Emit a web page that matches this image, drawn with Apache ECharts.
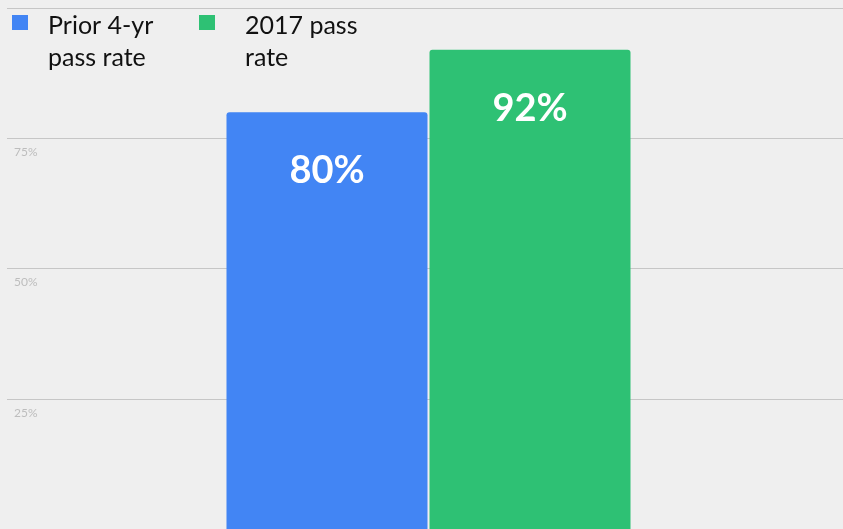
<!DOCTYPE html>
<html>
<head>
<meta charset="utf-8">
<script src="https://cdn.jsdelivr.net/npm/echarts@6/dist/echarts.min.js"></script>
<style>
html,body{margin:0;padding:0;background:#efefef;}
#chart{width:843px;height:529px;}
</style>
</head>
<body>
<div id="chart"></div>
<script>
const seriesNames = ['Prior 4-yr\npass rate', '2017 pass\nrate'];
const seriesValues = [80, 92];
const seriesColors = ['#4285F4', '#2EC174'];
const categories = [''];
const yTicks = [0, 25, 50, 75, 100];

const chart = echarts.init(document.getElementById('chart'), null, {renderer: 'canvas'});

const legendText = {fontFamily: 'Lato', fontSize: 25, color: '#111', lineHeight: 32};
const yMin = yTicks[0], yMax = yTicks[yTicks.length - 1];
const option = {
  backgroundColor: '#efefef',
  animation: false,
  grid: [
    {left: 7, top: 8, right: 0, height: 523, containLabel: false},
    {left: 14, top: 8, right: 0, height: 523, containLabel: false}
  ],
  legend: [
    {
      data: [seriesNames[0]], left: 12, top: 10, padding: 0,
      itemWidth: 31, itemHeight: 64,
      icon: 'path://M0,0L0,0M0,5L16,5L16,20L0,20ZM31,64L31,64',
      textStyle: legendText, selectedMode: false
    },
    {
      data: [seriesNames[1]], left: 199, top: 10, padding: 0,
      itemWidth: 41, itemHeight: 64,
      icon: 'path://M0,0L0,0M0,5L16,5L16,20L0,20ZM41,64L41,64',
      textStyle: legendText, selectedMode: false
    }
  ],
  xAxis: [
    {type: 'category', data: categories, gridIndex: 0, show: false},
    {type: 'category', data: categories, gridIndex: 1,
     axisLine: {show: false}, axisTick: {show: false}, axisLabel: {show: false}}
  ],
  yAxis: [
    {
      type: 'value', gridIndex: 0, min: yMin, max: yMax, interval: 25,
      axisLine: {show: false}, axisTick: {show: false},
      splitLine: {lineStyle: {color: '#c6c6c6', width: 1}},
      axisLabel: {
        inside: true, margin: 7, verticalAlign: 'top', padding: [8, 0, 0, 0],
        color: '#bdbdbd', fontFamily: 'Lato', fontSize: 12,
        formatter: v => (v === 0 || v === 100) ? '' : v + '%'
      }
    },
    {
      type: 'value', gridIndex: 1, min: yMin, max: yMax, interval: 25,
      axisLine: {show: false}, axisTick: {show: false},
      splitLine: {show: false}, axisLabel: {show: false}
    }
  ],
  series: seriesNames.map((name, i) => ({
    name: name, type: 'bar',
    xAxisIndex: 1, yAxisIndex: 1,
    data: [seriesValues[i]],
    barWidth: 201, barGap: '1%',
    itemStyle: {color: seriesColors[i], borderRadius: [3, 3, 0, 0]},
    label: {
      show: true, position: 'insideTop', distance: 40,
      formatter: '{c}%', color: '#fff', fontFamily: 'Lato', fontWeight: 'bold', fontSize: 38
    }
  }))
};
chart.setOption(option);
</script>
</body>
</html>
